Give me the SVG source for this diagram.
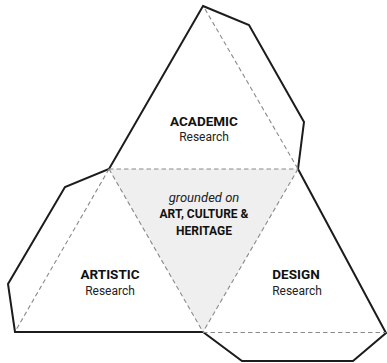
<svg xmlns="http://www.w3.org/2000/svg" width="387" height="363" viewBox="0 0 387 363">
<style>
.outline{fill:none;stroke:#1c1c1c;stroke-width:2;stroke-linejoin:miter}
.fold{fill:none;stroke:#8a8a8a;stroke-width:1.1;stroke-dasharray:4.5 3}
.title{font-family:Roboto,"Liberation Sans",sans-serif;font-weight:bold;font-size:13.5px;fill:#111;text-anchor:middle}
.sub{font-family:Roboto,"Liberation Sans",sans-serif;font-size:12px;fill:#222;text-anchor:middle}
.ctr{font-family:Roboto,"Liberation Sans",sans-serif;font-weight:bold;font-size:12px;fill:#111;text-anchor:middle}
.ital{font-family:Roboto,"Liberation Sans",sans-serif;font-style:italic;font-size:13px;fill:#222;text-anchor:middle}
</style>
<rect width="387" height="363" fill="#fff"/>
<g id="center">
<polygon points="109,169 298,169 203,332" fill="#efefef"/>
<text class="ital" x="204" y="202">grounded on</text>
<text class="ctr" x="204" y="218">ART, CULTURE &amp;</text>
<text class="ctr" x="204" y="235">HERITAGE</text>
</g>
<g id="outline">
<polygon class="outline" points="203,6 249,25 304,122 298,169 386,333 353,361 242,361 203,332 15,332 8,284 65,187 109,169"/>
</g>
<g id="connectors">
<line class="fold" x1="109" y1="169" x2="298" y2="169"/>
<line class="fold" x1="109" y1="169" x2="203" y2="332"/>
<line class="fold" x1="298" y1="169" x2="203" y2="332"/>
<line class="fold" x1="205" y1="9" x2="298" y2="169"/>
<line class="fold" x1="109" y1="169" x2="16" y2="330"/>
<line class="fold" x1="203" y1="332.5" x2="386" y2="332.5"/>
</g>
<g id="academic">
<text class="title" x="204" y="126">ACADEMIC</text>
<text class="sub" x="204" y="141">Research</text>
</g>
<g id="artistic">
<text class="title" x="110" y="279">ARTISTIC</text>
<text class="sub" x="110" y="295">Research</text>
</g>
<g id="design">
<text class="title" x="296" y="279">DESIGN</text>
<text class="sub" x="297" y="295">Research</text>
</g>
</svg>
